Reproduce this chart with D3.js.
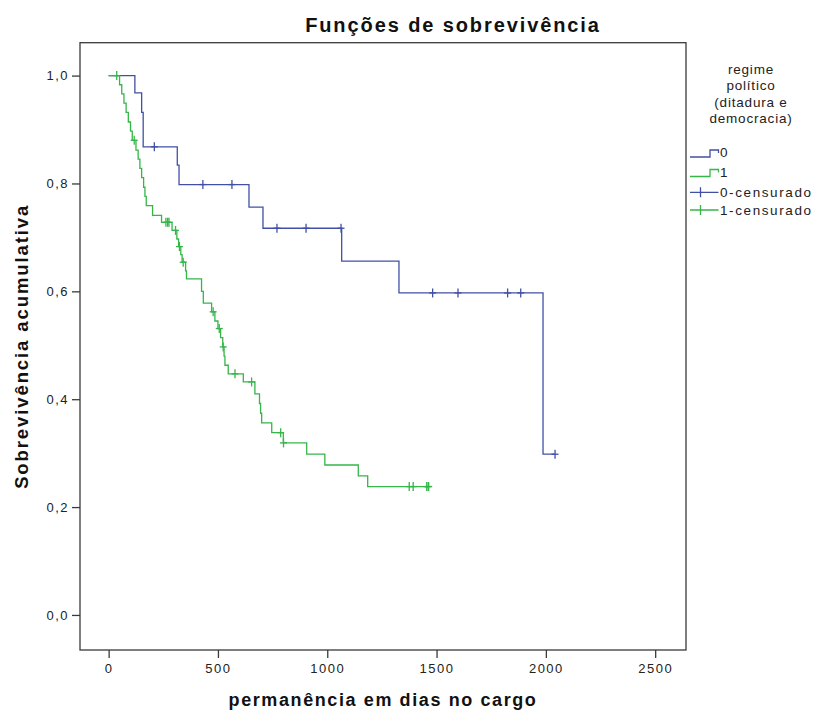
<!DOCTYPE html>
<html>
<head>
<meta charset="utf-8">
<script src="https://cdn.jsdelivr.net/npm/d3@7"></script>
<style>
  body { margin: 0; background: #fff; }
  svg { font-family: "Liberation Sans", Arial, sans-serif; }
</style>
</head>
<body>
<div id="chart"></div>
<script>
// curve 0 (ditadura): event days and survival after each step
const blueEventDays = [120, 151, 158, 314, 322, 642, 706, 1066, 1328, 1987];
const blueSurvival = [0.968, 0.932, 0.868, 0.834, 0.798, 0.756, 0.717, 0.656, 0.597, 0.298];
const blueCensorDays = [209, 431, 564, 770, 903, 1063, 1482, 1598, 1825, 1885, 2042];

// curve 1 (democracia)
const greenEventDays = [50, 60, 70, 80, 90, 100, 108, 125, 135, 143, 151, 160, 166, 172, 201, 242,
    290, 312, 320, 330, 336, 352, 356, 425, 433, 471, 486, 500, 512, 522, 528, 532, 547, 616,
    669, 690, 695, 700, 746, 799, 906, 989, 1142, 1185];
const greenSurvival = [0.983, 0.966, 0.949, 0.932, 0.914, 0.897, 0.880, 0.862, 0.845, 0.828, 0.811,
    0.793, 0.776, 0.759, 0.741, 0.728, 0.713, 0.697, 0.683, 0.668, 0.654, 0.638, 0.623, 0.600,
    0.578, 0.562, 0.545, 0.531, 0.514, 0.497, 0.480, 0.463, 0.447, 0.432, 0.410, 0.392, 0.374,
    0.356, 0.338, 0.319, 0.298, 0.278, 0.258, 0.238];
const greenCensorDays = [37, 117, 262, 270, 276, 306, 324, 341, 478, 506, 524, 578, 654, 787, 800,
    1375, 1393, 1455, 1462, 1464];

const xTicks = [0, 500, 1000, 1500, 2000, 2500];
const yTicks = [0, 0.2, 0.4, 0.6, 0.8, 1.0];
const legendTitle = ["regime", "político", "(ditadura e", "democracia)"];
const legendLabels = ["0", "1", "0-censurado", "1-censurado"];

const blue = "#4150a5", green = "#35b54a", frame = "#3a3a3a";

const width = 816, height = 718;
const plot = { left: 80, right: 686, top: 42.7, bottom: 650 };

const svg = d3.select("#chart").append("svg")
    .attr("width", width)
    .attr("height", height);

const x = d3.scaleLinear().domain([-131, 2641]).range([plot.left, plot.right]);
const y = d3.scaleLinear().domain([-0.065, 1.061]).range([plot.bottom, plot.top]);

// step value at a given day
function survivalAt(days, surv, t) {
    let s = 1;
    for (let i = 0; i < days.length; i++) if (days[i] <= t) s = surv[i];
    return s;
}

function stepPoints(days, surv, endDay) {
    const pts = [[0, 1]];
    days.forEach((d, i) => pts.push([d, surv[i]]));
    pts.push([endDay, surv[surv.length - 1]]);
    return pts;
}

const line = d3.line()
    .x(d => x(d[0]))
    .y(d => y(d[1]))
    .curve(d3.curveStepAfter);

// axes
svg.append("g")
    .attr("transform", "translate(0," + plot.bottom + ")")
    .call(d3.axisBottom(x).tickValues(xTicks).tickSize(8).tickPadding(6).tickFormat(d3.format("d")))
    .call(g => g.select(".domain").remove())
    .call(g => g.selectAll("line").attr("stroke", frame).attr("stroke-width", 1.3))
    .call(g => g.selectAll("text").attr("fill", "#222").style("font-size", "13px").style("letter-spacing", "1.5px"));

svg.append("g")
    .attr("transform", "translate(" + plot.left + ",0)")
    .call(d3.axisLeft(y).tickValues(yTicks).tickSize(8).tickPadding(3)
        .tickFormat(d => d.toFixed(1).replace(".", ",")))
    .call(g => g.select(".domain").remove())
    .call(g => g.selectAll("line").attr("stroke", frame).attr("stroke-width", 1.3))
    .call(g => g.selectAll("text").attr("fill", "#222").style("font-size", "13px").style("letter-spacing", "1.5px"));

// frame
svg.append("rect")
    .attr("x", plot.left).attr("y", plot.top)
    .attr("width", plot.right - plot.left).attr("height", plot.bottom - plot.top)
    .attr("fill", "none").attr("stroke", frame).attr("stroke-width", 1.3);

// curves
const curves = [
    { days: blueEventDays, surv: blueSurvival, cens: blueCensorDays, color: blue },
    { days: greenEventDays, surv: greenSurvival, cens: greenCensorDays, color: green }
];

curves.forEach(c => {
    const end = Math.max(c.days[c.days.length - 1], c.cens[c.cens.length - 1]);
    svg.append("path")
        .datum(stepPoints(c.days, c.surv, end))
        .attr("fill", "none")
        .attr("stroke", c.color)
        .attr("stroke-width", 1.3)
        .attr("d", line);

    const marks = svg.append("g").attr("stroke", c.color).attr("stroke-width", 1.3);
    c.cens.forEach(t => {
        const cx = x(t), cy = y(survivalAt(c.days, c.surv, t));
        marks.append("line").attr("x1", cx).attr("x2", cx).attr("y1", cy - 4.5).attr("y2", cy + 4.5);
        marks.append("line").attr("x1", cx - 3.5).attr("x2", cx + 3.5).attr("y1", cy).attr("y2", cy);
    });
});

// titles
svg.append("text")
    .attr("x", 453).attr("y", 32)
    .attr("text-anchor", "middle")
    .style("font-size", "20px").style("font-weight", "bold").style("letter-spacing", "1.9px")
    .attr("fill", "#111")
    .text("Funções de sobrevivência");

svg.append("text")
    .attr("x", (plot.left + plot.right) / 2).attr("y", 706)
    .attr("text-anchor", "middle")
    .style("font-size", "18px").style("font-weight", "bold").style("letter-spacing", "1.6px")
    .attr("fill", "#111")
    .text("permanência em dias no cargo");

svg.append("text")
    .attr("transform", "translate(28," + (plot.top + plot.bottom) / 2 + ") rotate(-90)")
    .attr("text-anchor", "middle")
    .style("font-size", "18.5px").style("font-weight", "bold").style("letter-spacing", "1.9px")
    .attr("fill", "#111")
    .text("Sobrevivência acumulativa");

// legend
const legend = svg.append("g");
legendTitle.forEach((t, i) => {
    legend.append("text")
        .attr("x", 751).attr("y", 74 + i * 16.3)
        .attr("text-anchor", "middle")
        .style("font-size", "13.5px").style("letter-spacing", "0.8px")
        .attr("fill", "#222")
        .text(t);
});

const rowY = [157, 176.5, 192.3, 210];
const legendColors = [blue, green, blue, green];
legendLabels.forEach((lab, i) => {
    const yy = rowY[i], col = legendColors[i];
    if (i < 2) {
        legend.append("path")
            .attr("d", `M690,${yy}H710V${yy - 7}H718.5V${yy - 4}`)
            .attr("fill", "none").attr("stroke", col).attr("stroke-width", 1.3);
    } else {
        legend.append("path")
            .attr("d", `M690,${yy}H718.5M700.5,${yy - 5}V${yy + 5}`)
            .attr("fill", "none").attr("stroke", col).attr("stroke-width", 1.3);
    }
    legend.append("text")
        .attr("x", 720).attr("y", i < 2 ? yy : yy + 5)
        .style("font-size", "13.5px").style("letter-spacing", "1.6px")
        .attr("fill", "#222")
        .text(lab);
});
</script>
</body>
</html>
